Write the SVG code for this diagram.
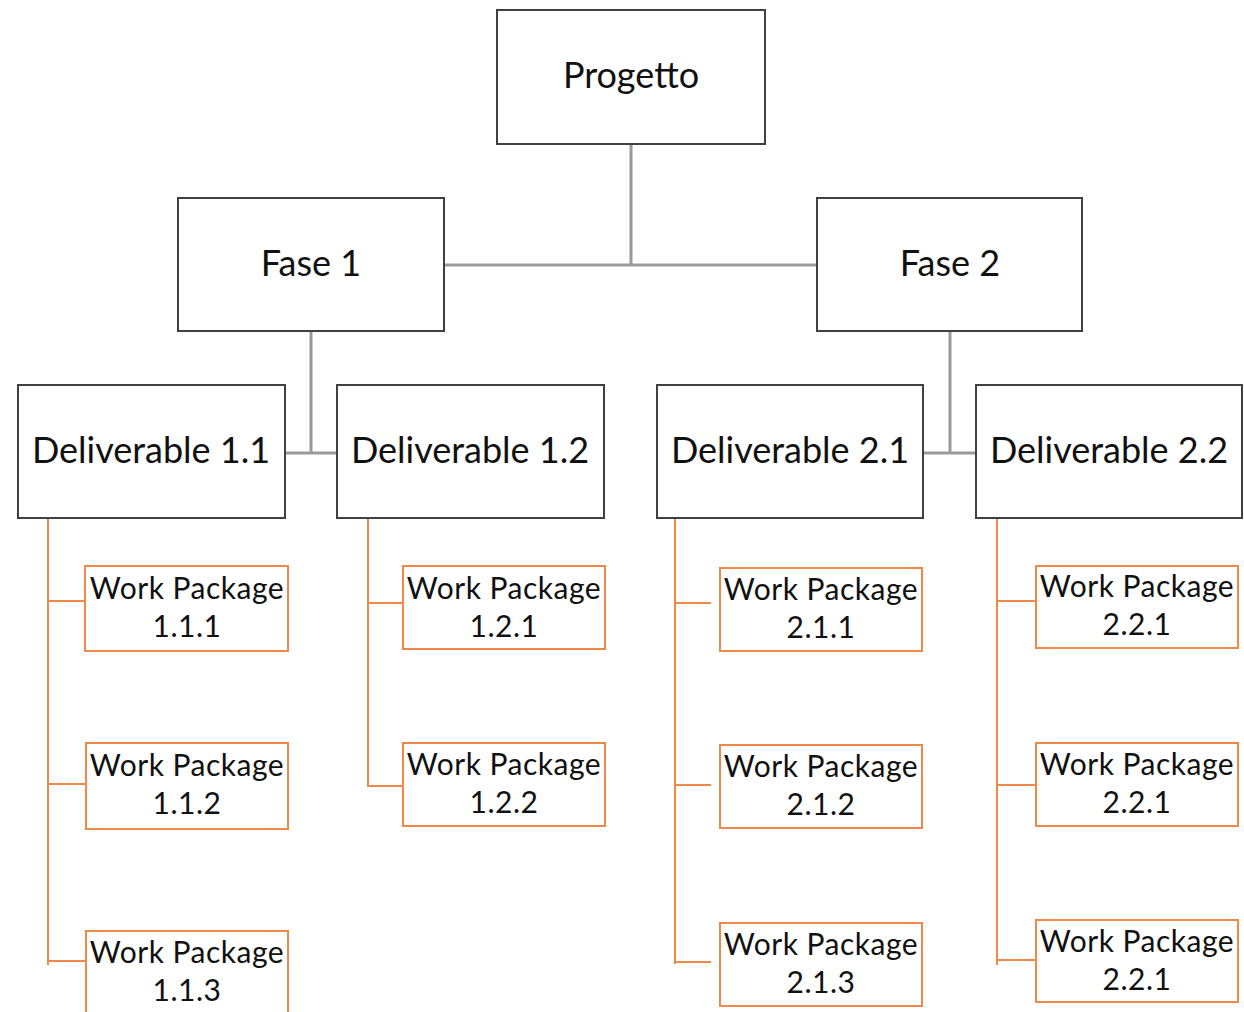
<svg xmlns="http://www.w3.org/2000/svg" width="1244" height="1012" viewBox="0 0 1244 1012">
<style>
.box{fill:#fff;stroke:#404040;stroke-width:2}
.wp{fill:#fff;stroke:#F0884A;stroke-width:2}
.t{font-family:Lato,"Open Sans",sans-serif;fill:#111;text-anchor:middle}
.big{font-size:36px}
.sm{font-size:30px;letter-spacing:0.5px}
.g{stroke:#9A9A9A;stroke-width:3;fill:none}
.o{stroke:#F0884A;stroke-width:2;fill:none}
</style>
<rect width="1244" height="1012" fill="#fff"/>
<g id="connectors">
<path class="g" d="M631 144V265M444 265H817M311 331V453M285 453H337M950 331V453M923 453H976"/>
<path class="o" d="M48 518V965M48 601H85M48 784H86M48 961H86"/>
<path class="o" d="M368 518V787M368 603H403M368 786H403"/>
<path class="o" d="M675 518V964M675 603H711M675 785H711M675 962H711"/>
<path class="o" d="M997 518V965M997 601H1036M997 785H1036M997 960H1036"/>
</g>
<g id="progetto"><rect class="box" x="497" y="10" width="268" height="134"/><text class="t big" x="631" y="88">Progetto</text></g>
<g id="fase1"><rect class="box" x="178" y="198" width="266" height="133"/><text class="t big" x="311" y="276">Fase 1</text></g>
<g id="fase2"><rect class="box" x="817" y="198" width="265" height="133"/><text class="t big" x="950" y="276">Fase 2</text></g>
<g id="d11"><rect class="box" x="18" y="385" width="267" height="133"/><text class="t big" x="151" y="463">Deliverable 1.1</text></g>
<g id="d12"><rect class="box" x="337" y="385" width="267" height="133"/><text class="t big" x="470" y="463">Deliverable 1.2</text></g>
<g id="d21"><rect class="box" x="657" y="385" width="266" height="133"/><text class="t big" x="790" y="463">Deliverable 2.1</text></g>
<g id="d22"><rect class="box" x="976" y="385" width="266" height="133"/><text class="t big" x="1109" y="463">Deliverable 2.2</text></g>
<g id="wp111"><rect class="wp" x="85" y="566" width="203" height="85"/><text class="t sm" x="187" y="599">Work Package</text><text class="t sm" x="187" y="637">1.1.1</text></g>
<g id="wp112"><rect class="wp" x="86" y="743" width="202" height="86"/><text class="t sm" x="187" y="776">Work Package</text><text class="t sm" x="187" y="814">1.1.2</text></g>
<g id="wp113"><rect class="wp" x="86" y="931" width="202" height="90"/><text class="t sm" x="187" y="963">Work Package</text><text class="t sm" x="187" y="1001">1.1.3</text></g>
<g id="wp121"><rect class="wp" x="403" y="566" width="202" height="83"/><text class="t sm" x="504" y="599">Work Package</text><text class="t sm" x="504" y="637">1.2.1</text></g>
<g id="wp122"><rect class="wp" x="403" y="743" width="202" height="83"/><text class="t sm" x="504" y="775">Work Package</text><text class="t sm" x="504" y="813">1.2.2</text></g>
<g id="wp211"><rect class="wp" x="720" y="568" width="202" height="83"/><text class="t sm" x="821" y="600">Work Package</text><text class="t sm" x="821" y="638">2.1.1</text></g>
<g id="wp212"><rect class="wp" x="720" y="745" width="202" height="83"/><text class="t sm" x="821" y="777">Work Package</text><text class="t sm" x="821" y="815">2.1.2</text></g>
<g id="wp213"><rect class="wp" x="720" y="923" width="202" height="83"/><text class="t sm" x="821" y="955">Work Package</text><text class="t sm" x="821" y="993">2.1.3</text></g>
<g id="wp221a"><rect class="wp" x="1036" y="566" width="202" height="82"/><text class="t sm" x="1137" y="597">Work Package</text><text class="t sm" x="1137" y="635">2.2.1</text></g>
<g id="wp221b"><rect class="wp" x="1036" y="743" width="202" height="83"/><text class="t sm" x="1137" y="775">Work Package</text><text class="t sm" x="1137" y="813">2.2.1</text></g>
<g id="wp221c"><rect class="wp" x="1036" y="920" width="202" height="82"/><text class="t sm" x="1137" y="952">Work Package</text><text class="t sm" x="1137" y="990">2.2.1</text></g>
</svg>
